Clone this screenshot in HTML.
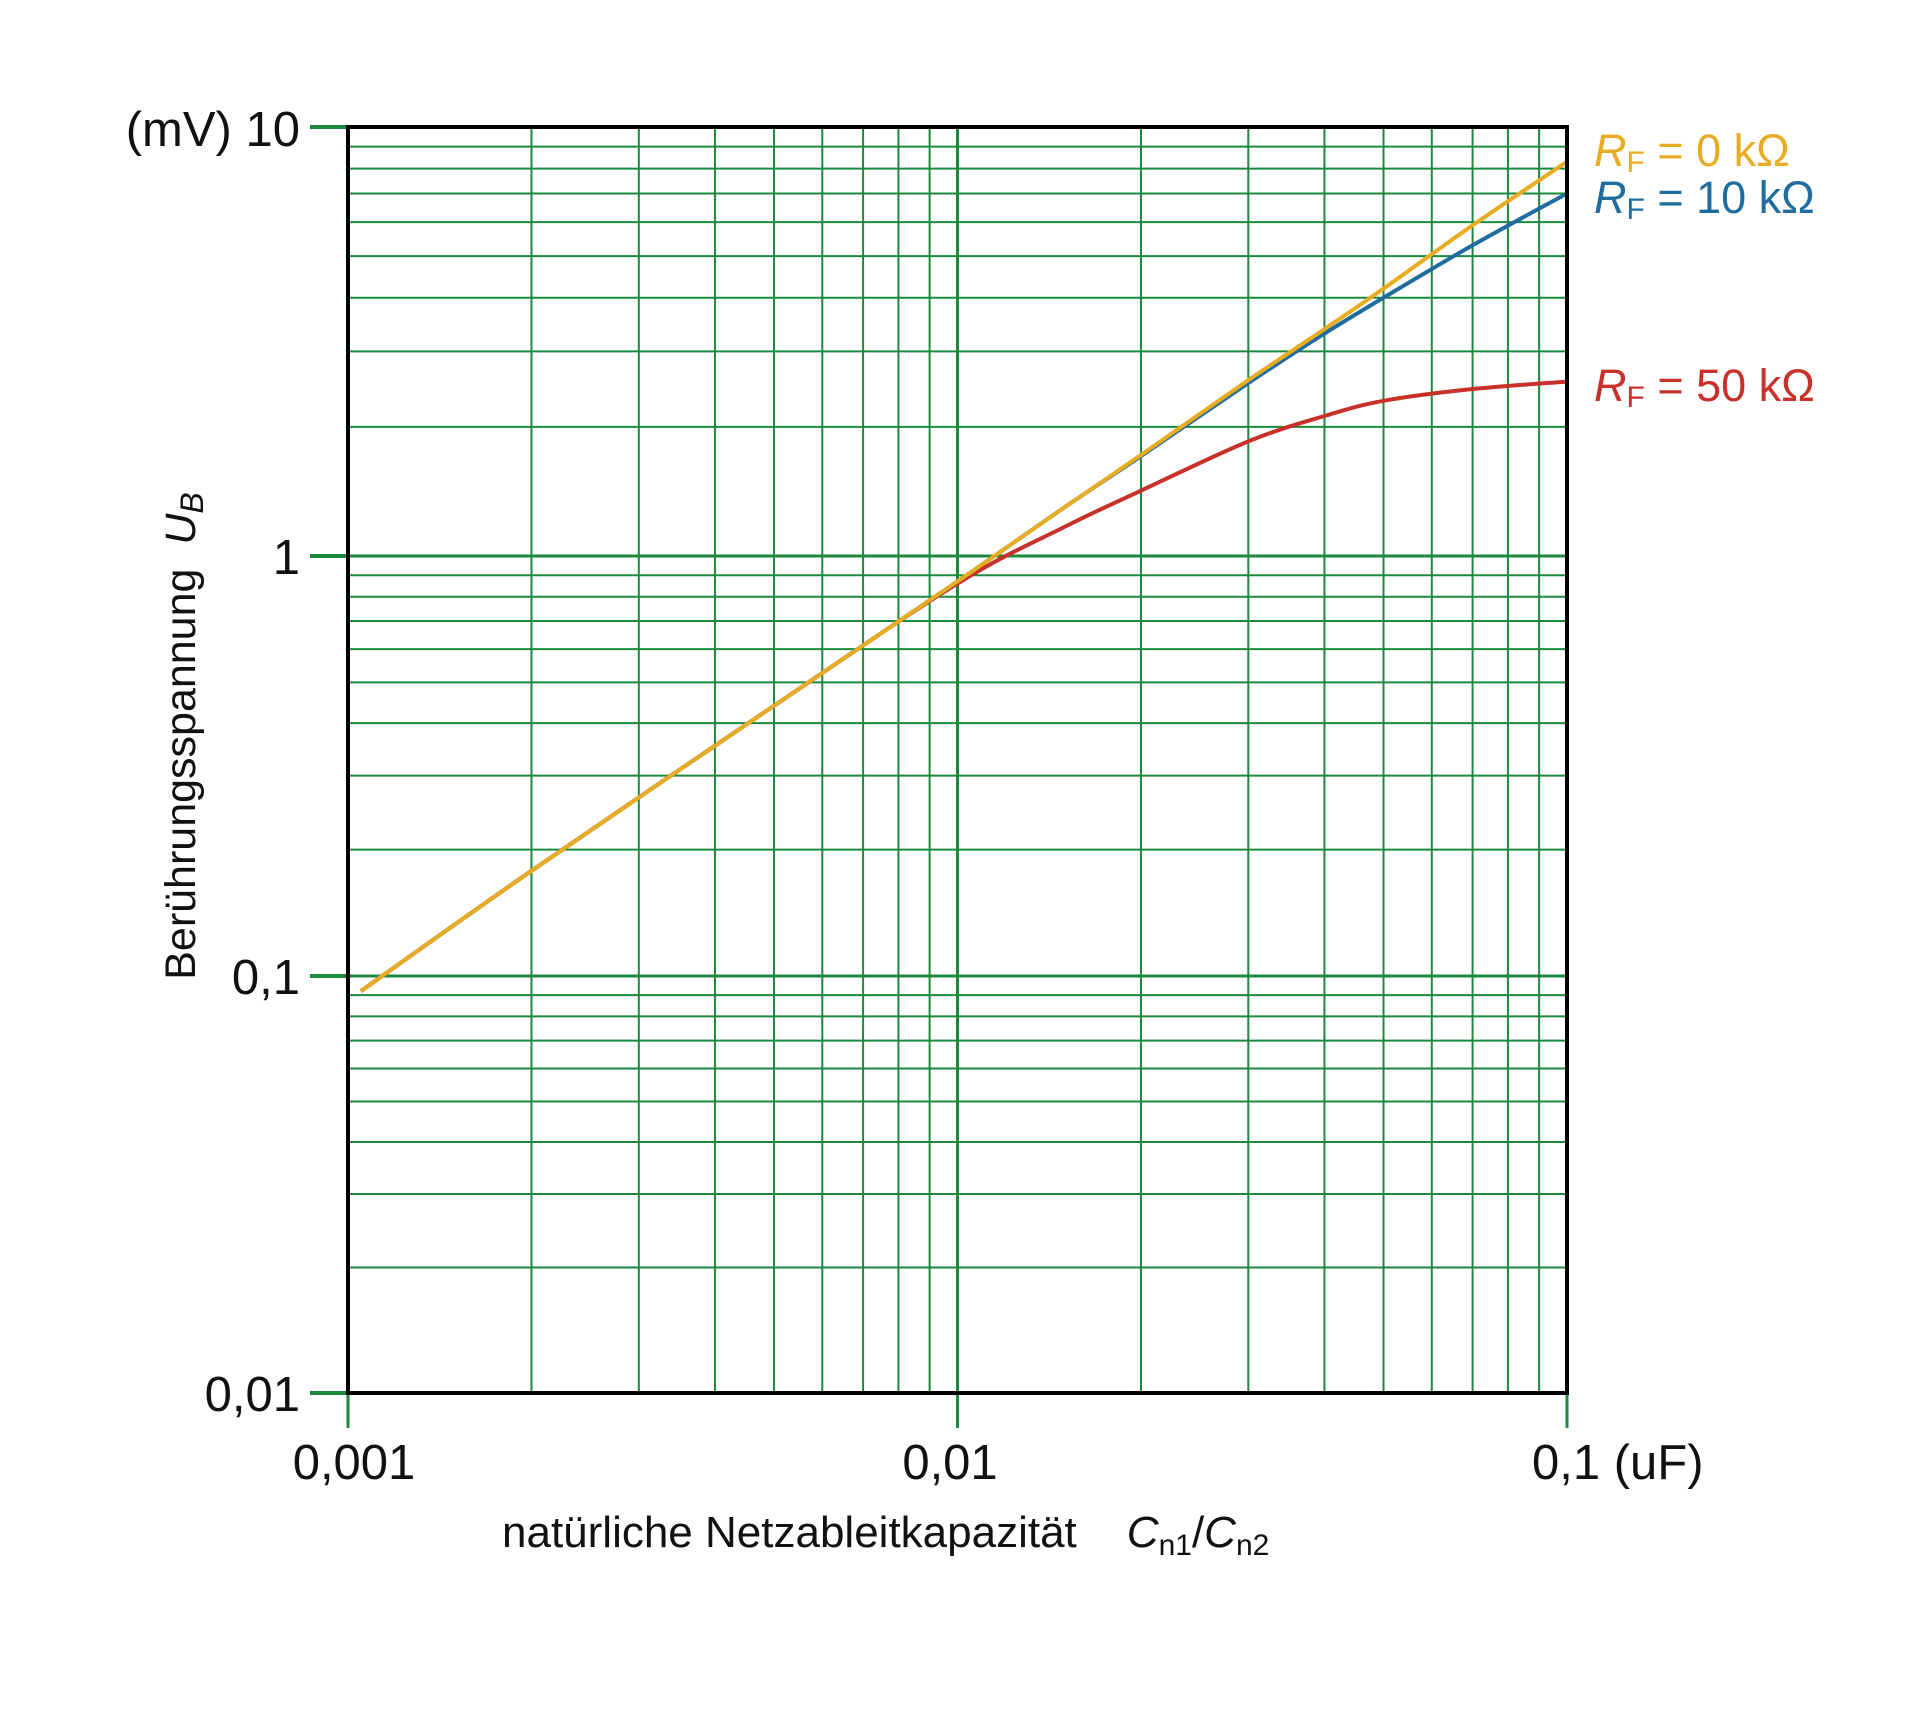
<!DOCTYPE html>
<html><head><meta charset="utf-8"><style>
html,body{margin:0;padding:0;background:#fff;}
svg{display:block;font-family:"Liberation Sans",Arial,sans-serif;}
</style></head><body>
<svg id="chart" width="1920" height="1717" viewBox="0 0 1920 1717">
<g id="grid"></g>
<g id="curves"></g>
<g id="axes"></g>
<g id="labels">
<text x="300" y="146" font-size="49" text-anchor="end" fill="#111">(mV) 10</text>
<text x="300" y="574" font-size="49" text-anchor="end" fill="#111">1</text>
<text x="300" y="994" font-size="49" text-anchor="end" fill="#111">0,1</text>
<text x="300" y="1411" font-size="49" text-anchor="end" fill="#111">0,01</text>
<text x="354" y="1479" font-size="49" text-anchor="middle" fill="#111">0,001</text>
<text x="950" y="1479" font-size="49" text-anchor="middle" fill="#111">0,01</text>
<text x="1532" y="1479" font-size="49" fill="#111">0,1 (uF)</text>
<text x="502" y="1547" font-size="44" fill="#111">natürliche Netzableitkapazität<tspan dx="50" font-style="italic">C</tspan><tspan font-size="30" dy="8">n1</tspan><tspan dy="-8">/</tspan><tspan font-style="italic">C</tspan><tspan font-size="30" dy="8">n2</tspan></text>
<text transform="translate(195,736) rotate(-90)" font-size="43" text-anchor="middle" fill="#111">Berührungsspannung <tspan dx="12" font-style="italic">U</tspan><tspan font-style="italic" font-size="32" dy="8">B</tspan></text>
<text x="1594" y="166" font-size="45" fill="#e8ac22"><tspan font-style="italic">R</tspan><tspan font-size="30" dy="6">F</tspan><tspan dy="-6"> = 0 kΩ</tspan></text>
<text x="1594" y="213" font-size="45" fill="#1f6d9e"><tspan font-style="italic">R</tspan><tspan font-size="30" dy="6">F</tspan><tspan dy="-6"> = 10 kΩ</tspan></text>
<text x="1594" y="401" font-size="45" fill="#c8312a"><tspan font-style="italic">R</tspan><tspan font-size="30" dy="6">F</tspan><tspan dy="-6"> = 50 kΩ</tspan></text>
</g>
</svg>
<script>
const xValues = [0.00105, 0.002, 0.005, 0.01, 0.015, 0.02, 0.03, 0.04, 0.05, 0.07, 0.1];
const rf0Values = [0.092, 0.178, 0.44, 0.87, 1.3, 1.72, 2.57, 3.38, 4.2, 5.9, 8.3];
const rf10Values = [0.092, 0.178, 0.44, 0.87, 1.3, 1.71, 2.53, 3.3, 4.0, 5.3, 7.0];
const rf50Values = [0.092, 0.178, 0.44, 0.86, 1.17, 1.42, 1.85, 2.12, 2.3, 2.45, 2.55];
const xDecades = [0.001, 0.01, 0.1];
const yDecades = [0.01, 0.1, 1, 10];

const X0 = 348, X1 = 1567;
const yDecadePix = [1393, 976, 556, 127];
function sx(v){ return X0 + (Math.log10(v) + 3) / 2 * (X1 - X0); }
function sy(v){
  const t = Math.log10(v) + 2;
  const i = Math.max(0, Math.min(2, Math.floor(t)));
  return yDecadePix[i] + (t - i) * (yDecadePix[i+1] - yDecadePix[i]);
}
const Y0 = sy(0.01), Y1 = sy(10);
const NS = 'http://www.w3.org/2000/svg';
function mk(tag, attrs, parent){
  const e = document.createElementNS(NS, tag);
  for (const k in attrs) e.setAttribute(k, attrs[k]);
  parent.appendChild(e); return e;
}
const grid = document.getElementById('grid');
const green = '#1b8a3e';
for (let d = 0; d < xDecades.length - 1; d++) {
  for (let m = 1; m <= 9; m++) {
    const v = xDecades[d] * m;
    const x = sx(v);
    const ln = mk('line', {x1:x, x2:x, y1:Y1, y2:Y0, stroke:green, 'stroke-width': m === 1 ? 3 : 2}, grid);
    
    
  }
}
for (let d = 0; d < yDecades.length - 1; d++) {
  for (let m = 1; m <= 9; m++) {
    const v = yDecades[d] * m;
    const y = sy(v);
    const ln = mk('line', {x1:X0, x2:X1, y1:y, y2:y, stroke:green, 'stroke-width': m === 1 ? 3 : 2}, grid);
    
    
  }
}
const axes = document.getElementById('axes');
yDecades.forEach(v => {
  const t = mk('line', {x1:310, x2:X0, y1:sy(v), y2:sy(v), stroke:green, 'stroke-width':4}, axes);
  
  
});
xDecades.forEach(v => {
  const t = mk('line', {x1:sx(v), x2:sx(v), y1:Y0, y2:1428, stroke:green, 'stroke-width':3}, axes);
  
  
});
const frame = mk('rect', {x:X0, y:Y1, width:X1-X0, height:Y0-Y1, fill:'none', stroke:'#000', 'stroke-width':4}, axes);



const curves = document.getElementById('curves');
function path(vals){
  const p = xValues.map((x,i)=>[sx(x), sy(vals[i])]);
  let d = 'M' + p[0][0] + ',' + p[0][1];
  for (let i = 0; i < p.length - 1; i++) {
    const a = p[Math.max(0,i-1)], b = p[i], c = p[i+1], e = p[Math.min(p.length-1,i+2)];
    const c1 = [b[0] + (c[0]-a[0])/6, b[1] + (c[1]-a[1])/6];
    const c2 = [c[0] - (e[0]-b[0])/6, c[1] - (e[1]-b[1])/6];
    d += ' C' + c1 + ' ' + c2 + ' ' + c;
  }
  return d;
}
const l50 = mk('path', {d:path(rf50Values), fill:'none', stroke:'#c8312a', 'stroke-width':4}, curves);


const l10 = mk('path', {d:path(rf10Values), fill:'none', stroke:'#1f6d9e', 'stroke-width':4}, curves);


const l0 = mk('path', {d:path(rf0Values), fill:'none', stroke:'#e8ac22', 'stroke-width':4}, curves);


</script>
</body></html>
